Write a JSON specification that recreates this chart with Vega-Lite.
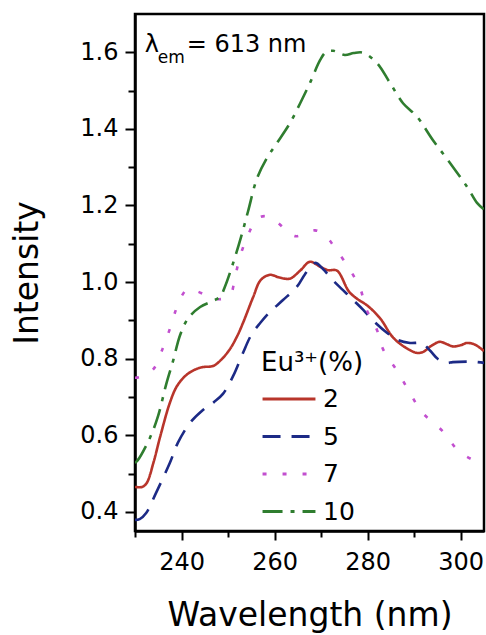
{
  "$schema": "https://vega.github.io/schema/vega-lite/v6.json",
  "width": 349,
  "height": 517,
  "autosize": "none",
  "padding": {"left": 135, "top": 14, "right": 2, "bottom": 104},
  "background": "white",
  "config": {
    "font": "DejaVu Sans",
    "view": {"stroke": "black", "strokeWidth": 2.5},
    "axis": {
      "grid": false,
      "domainColor": "black",
      "domainWidth": 2.5,
      "tickColor": "black",
      "tickWidth": 2,
      "labelColor": "black",
      "labelFont": "DejaVu Sans",
      "labelFontSize": 24,
      "titleFont": "DejaVu Sans",
      "titleFontSize": 33,
      "titleFontWeight": "normal",
      "titleColor": "black",
      "labelFlush": false,
      "labelOverlap": false
    },
    "legend": {
      "labelFont": "DejaVu Sans",
      "titleFont": "DejaVu Sans"
    }
  },
  "layer": [
    {
      "data": {
        "values": [
          {"s": "2", "w": 230, "v": 0.465}, {"s": "2", "w": 231.5, "v": 0.465}, {"s": "2", "w": 232.5, "v": 0.475}, {"s": "2", "w": 234, "v": 0.53}, {"s": "2", "w": 235.4, "v": 0.596}, {"s": "2", "w": 237.5, "v": 0.685}, {"s": "2", "w": 239, "v": 0.728}, {"s": "2", "w": 241, "v": 0.757}, {"s": "2", "w": 243, "v": 0.772}, {"s": "2", "w": 244.6, "v": 0.778}, {"s": "2", "w": 246.8, "v": 0.781}, {"s": "2", "w": 248.5, "v": 0.797}, {"s": "2", "w": 250.4, "v": 0.825}, {"s": "2", "w": 252, "v": 0.86}, {"s": "2", "w": 253.2, "v": 0.893}, {"s": "2", "w": 255.4, "v": 0.961}, {"s": "2", "w": 257, "v": 1.005}, {"s": "2", "w": 259, "v": 1.019}, {"s": "2", "w": 261, "v": 1.012}, {"s": "2", "w": 263.3, "v": 1.009}, {"s": "2", "w": 265.5, "v": 1.03}, {"s": "2", "w": 267.6, "v": 1.053}, {"s": "2", "w": 269.8, "v": 1.04}, {"s": "2", "w": 271.5, "v": 1.031}, {"s": "2", "w": 273.4, "v": 1.03}, {"s": "2", "w": 276, "v": 0.975}, {"s": "2", "w": 278, "v": 0.954}, {"s": "2", "w": 280, "v": 0.938}, {"s": "2", "w": 282.7, "v": 0.905}, {"s": "2", "w": 285.4, "v": 0.856}, {"s": "2", "w": 288, "v": 0.83}, {"s": "2", "w": 290.6, "v": 0.815}, {"s": "2", "w": 292, "v": 0.818}, {"s": "2", "w": 293.5, "v": 0.832}, {"s": "2", "w": 295.5, "v": 0.844}, {"s": "2", "w": 297, "v": 0.838}, {"s": "2", "w": 298.3, "v": 0.832}, {"s": "2", "w": 300, "v": 0.835}, {"s": "2", "w": 301.3, "v": 0.841}, {"s": "2", "w": 303, "v": 0.837}, {"s": "2", "w": 305, "v": 0.82},
          {"s": "5", "w": 230, "v": 0.379}, {"s": "5", "w": 231, "v": 0.381}, {"s": "5", "w": 232.4, "v": 0.397}, {"s": "5", "w": 234.5, "v": 0.449}, {"s": "5", "w": 237.5, "v": 0.528}, {"s": "5", "w": 239.2, "v": 0.58}, {"s": "5", "w": 241.8, "v": 0.632}, {"s": "5", "w": 244.6, "v": 0.666}, {"s": "5", "w": 247, "v": 0.687}, {"s": "5", "w": 248.9, "v": 0.708}, {"s": "5", "w": 251.1, "v": 0.755}, {"s": "5", "w": 253.2, "v": 0.815}, {"s": "5", "w": 255, "v": 0.862}, {"s": "5", "w": 256.9, "v": 0.893}, {"s": "5", "w": 259, "v": 0.922}, {"s": "5", "w": 261.8, "v": 0.953}, {"s": "5", "w": 264.8, "v": 0.988}, {"s": "5", "w": 266.5, "v": 1.02}, {"s": "5", "w": 268.7, "v": 1.05}, {"s": "5", "w": 270.4, "v": 1.034}, {"s": "5", "w": 272.5, "v": 1.005}, {"s": "5", "w": 274.7, "v": 0.979}, {"s": "5", "w": 276.9, "v": 0.953}, {"s": "5", "w": 279, "v": 0.928}, {"s": "5", "w": 281.2, "v": 0.899}, {"s": "5", "w": 284.2, "v": 0.867}, {"s": "5", "w": 286.5, "v": 0.849}, {"s": "5", "w": 289.1, "v": 0.841}, {"s": "5", "w": 291.7, "v": 0.84}, {"s": "5", "w": 293.5, "v": 0.82}, {"s": "5", "w": 295.1, "v": 0.799}, {"s": "5", "w": 297, "v": 0.789}, {"s": "5", "w": 298.3, "v": 0.791}, {"s": "5", "w": 302.6, "v": 0.792}, {"s": "5", "w": 305, "v": 0.789},
          {"s": "7", "w": 230, "v": 0.75}, {"s": "7", "w": 231, "v": 0.752}, {"s": "7", "w": 233.9, "v": 0.772}, {"s": "7", "w": 236, "v": 0.828}, {"s": "7", "w": 237.5, "v": 0.878}, {"s": "7", "w": 238.8, "v": 0.928}, {"s": "7", "w": 240, "v": 0.963}, {"s": "7", "w": 241.4, "v": 0.982}, {"s": "7", "w": 243.5, "v": 0.975}, {"s": "7", "w": 246.1, "v": 0.961}, {"s": "7", "w": 248, "v": 0.955}, {"s": "7", "w": 250.4, "v": 0.965}, {"s": "7", "w": 251.5, "v": 1.013}, {"s": "7", "w": 252.6, "v": 1.068}, {"s": "7", "w": 254.3, "v": 1.123}, {"s": "7", "w": 256.2, "v": 1.165}, {"s": "7", "w": 258, "v": 1.172}, {"s": "7", "w": 260.5, "v": 1.157}, {"s": "7", "w": 262.5, "v": 1.135}, {"s": "7", "w": 264.4, "v": 1.12}, {"s": "7", "w": 266.5, "v": 1.126}, {"s": "7", "w": 268.7, "v": 1.135}, {"s": "7", "w": 271, "v": 1.12}, {"s": "7", "w": 273, "v": 1.089}, {"s": "7", "w": 276.2, "v": 1.032}, {"s": "7", "w": 278.5, "v": 0.98}, {"s": "7", "w": 279.5, "v": 0.935}, {"s": "7", "w": 282, "v": 0.875}, {"s": "7", "w": 283.3, "v": 0.825}, {"s": "7", "w": 286.5, "v": 0.765}, {"s": "7", "w": 289.1, "v": 0.71}, {"s": "7", "w": 291.7, "v": 0.66}, {"s": "7", "w": 296, "v": 0.612}, {"s": "7", "w": 299.8, "v": 0.556}, {"s": "7", "w": 304.1, "v": 0.528}, {"s": "7", "w": 305, "v": 0.525},
          {"s": "10", "w": 230, "v": 0.528}, {"s": "10", "w": 230.6, "v": 0.535}, {"s": "10", "w": 233.2, "v": 0.593}, {"s": "10", "w": 235, "v": 0.652}, {"s": "10", "w": 236.7, "v": 0.733}, {"s": "10", "w": 238.2, "v": 0.795}, {"s": "10", "w": 239.7, "v": 0.862}, {"s": "10", "w": 241.4, "v": 0.905}, {"s": "10", "w": 244, "v": 0.935}, {"s": "10", "w": 246.8, "v": 0.951}, {"s": "10", "w": 248.3, "v": 0.962}, {"s": "10", "w": 249.3, "v": 0.987}, {"s": "10", "w": 251.1, "v": 1.05}, {"s": "10", "w": 252.8, "v": 1.118}, {"s": "10", "w": 254.3, "v": 1.185}, {"s": "10", "w": 256.2, "v": 1.27}, {"s": "10", "w": 258.4, "v": 1.325}, {"s": "10", "w": 260.5, "v": 1.363}, {"s": "10", "w": 263.3, "v": 1.415}, {"s": "10", "w": 265.5, "v": 1.467}, {"s": "10", "w": 267.6, "v": 1.52}, {"s": "10", "w": 269.8, "v": 1.58}, {"s": "10", "w": 271, "v": 1.6}, {"s": "10", "w": 272.6, "v": 1.604}, {"s": "10", "w": 275.1, "v": 1.593}, {"s": "10", "w": 277, "v": 1.598}, {"s": "10", "w": 279, "v": 1.599}, {"s": "10", "w": 282, "v": 1.572}, {"s": "10", "w": 284.8, "v": 1.52}, {"s": "10", "w": 287.6, "v": 1.467}, {"s": "10", "w": 290.6, "v": 1.432}, {"s": "10", "w": 294, "v": 1.371}, {"s": "10", "w": 297.7, "v": 1.311}, {"s": "10", "w": 301.4, "v": 1.248}, {"s": "10", "w": 303.5, "v": 1.207}, {"s": "10", "w": 305, "v": 1.19}
        ]
      },
      "mark": {"type": "line", "interpolate": "catmull-rom", "strokeWidth": 2.6, "clip": true},
      "encoding": {
        "x": {
          "field": "w", "type": "quantitative",
          "scale": {"domain": [230, 305], "nice": false, "zero": false},
          "axis": {
            "title": "Wavelength (nm)",
            "values": [230, 240, 250, 260, 270, 280, 290, 300],
            "labelExpr": "datum.value % 20 === 0 ? datum.label : ''",
            "tickSize": {"condition": {"test": "datum.value % 20 === 0", "value": 9}, "value": 6},
            "labelPadding": 10,
            "titlePadding": 25
          }
        },
        "y": {
          "field": "v", "type": "quantitative",
          "scale": {"domain": [0.35, 1.7], "nice": false, "zero": false},
          "axis": {
            "title": "Intensity",
            "values": [0.4, 0.5, 0.6, 0.7, 0.8, 0.9, 1.0, 1.1, 1.2, 1.3, 1.4, 1.5, 1.6],
            "labelExpr": "round(datum.value * 10) % 2 === 0 ? format(datum.value, '.1f') : ''",
            "tickSize": {"condition": {"test": "round(datum.value * 10) % 2 === 0", "value": 10}, "value": 7},
            "labelPadding": 7,
            "titlePadding": 35
          }
        },
        "color": {
          "field": "s", "type": "nominal",
          "scale": {"domain": ["2", "5", "7", "10"], "range": ["#b8352b", "#1c2a86", "#c24fcf", "#2f7d2f"]},
          "legend": {
            "title": "Eu³⁺(%)",
            "orient": "none",
            "legendX": 126,
            "legendY": 336,
            "padding": 0,
            "titleFontSize": 26,
            "titleFontWeight": "normal",
            "titleColor": "black",
            "titlePadding": 8,
            "labelFontSize": 25,
            "labelColor": "black",
            "labelOffset": 6,
            "symbolSize": 2800,
            "symbolStrokeWidth": 3,
            "symbolType": "stroke",
            "clipHeight": 30,
            "rowPadding": 7.5
          }
        },
        "strokeDash": {
          "field": "s", "type": "nominal",
          "scale": {"domain": ["2", "5", "7", "10"], "range": [[1, 0], [18, 11], [4, 16], [20, 8, 4, 8]]},
          "legend": {
            "title": "Eu³⁺(%)"
          }
        }
      }
    },
    {
      "data": {"values": [{"t": "λ"}]},
      "mark": {"type": "text", "fontSize": 24, "align": "left", "baseline": "alphabetic", "color": "black", "font": "DejaVu Sans"},
      "encoding": {"x": {"datum": 232.1, "type": "quantitative"}, "y": {"datum": 1.601, "type": "quantitative"}, "text": {"field": "t"}}
    },
    {
      "data": {"values": [{"t": "em"}]},
      "mark": {"type": "text", "fontSize": 17, "align": "left", "baseline": "alphabetic", "color": "black", "font": "DejaVu Sans"},
      "encoding": {"x": {"datum": 234.9, "type": "quantitative"}, "y": {"datum": 1.572, "type": "quantitative"}, "text": {"field": "t"}}
    },
    {
      "data": {"values": [{"t": "= 613 nm"}]},
      "mark": {"type": "text", "fontSize": 24, "align": "left", "baseline": "alphabetic", "color": "black", "font": "DejaVu Sans"},
      "encoding": {"x": {"datum": 241.1, "type": "quantitative"}, "y": {"datum": 1.601, "type": "quantitative"}, "text": {"field": "t"}}
    }
  ]
}
